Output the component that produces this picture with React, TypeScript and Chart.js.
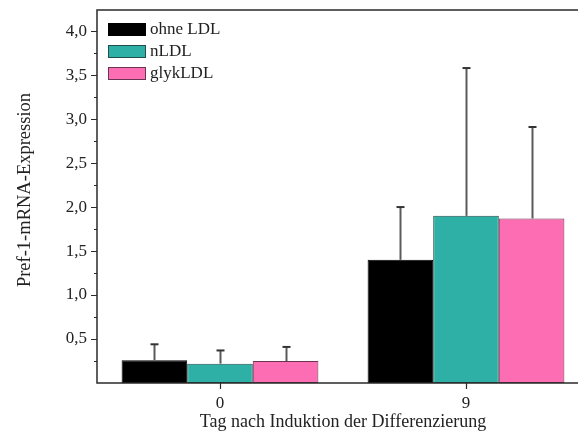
import React, { useEffect, useRef } from "react";
import { Chart, registerables } from "chart.js";

Chart.register(...registerables);

const categories = ["0", "9"];
const seriesNames = ["ohne LDL", "nLDL", "glykLDL"];
const ohneLDL = [0.26, 1.4];
const nLDL = [0.22, 1.9];
const glykLDL = [0.25, 1.87];
// upper error amounts (SD) above each bar
const ohneLDLErr = [0.18, 0.6];
const nLDLErr = [0.15, 1.68];
const glykLDLErr = [0.16, 1.04];
const yMajorTicks = [0.5, 1.0, 1.5, 2.0, 2.5, 3.0, 3.5, 4.0];
const yMinorTicks = [0.25, 0.75, 1.25, 1.75, 2.25, 2.75, 3.25, 3.75];
const xTitle = "Tag nach Induktion der Differenzierung";
const yTitle = "Pref-1-mRNA-Expression";

const FONT = "'Liberation Serif', 'Times New Roman', serif";
const fills = ["#000000", "#2eb0a6", "#fc6db4"];
const edges = ["#000000", "#1f4f4b", "#6a3550"];
const errors = [ohneLDLErr, nLDLErr, glykLDLErr];

const framePlugin = {
  id: "frame",
  afterDraw(chart: any) {
    const { ctx, chartArea } = chart;
    const { left, right, top, bottom } = chartArea;
    const y = chart.scales.y;
    const x = chart.scales.x;
    ctx.save();
    ctx.strokeStyle = "#2a2a2a";
    ctx.lineWidth = 1.5;
    ctx.beginPath();
    ctx.moveTo(left, top);
    ctx.lineTo(right, top);
    ctx.lineTo(right, bottom);
    ctx.lineTo(left, bottom);
    ctx.closePath();
    ctx.stroke();
    ctx.lineWidth = 1.2;
    ctx.beginPath();
    yMajorTicks.forEach((v) => {
      const py = Math.round(y.getPixelForValue(v)) + 0.5;
      ctx.moveTo(left - 6, py);
      ctx.lineTo(left, py);
    });
    yMinorTicks.forEach((v) => {
      const py = Math.round(y.getPixelForValue(v)) + 0.5;
      ctx.moveTo(left - 3, py);
      ctx.lineTo(left, py);
    });
    categories.forEach((_, i) => {
      const px = Math.round(x.getPixelForValue(i)) + 0.5;
      ctx.moveTo(px, bottom);
      ctx.lineTo(px, bottom + 6);
    });
    ctx.stroke();

    // axis titles
    ctx.fillStyle = "#222";
    ctx.textAlign = "center";
    ctx.textBaseline = "alphabetic";
    ctx.font = `18px ${FONT}`;
    ctx.fillText(xTitle, (left + right) / 2, 427);
    ctx.save();
    ctx.translate(30, 190);
    ctx.rotate(-Math.PI / 2);
    ctx.font = `18.5px ${FONT}`;
    ctx.fillText(yTitle, 0, 0);
    ctx.restore();

    // legend
    ctx.font = `17px ${FONT}`;
    ctx.textBaseline = "middle";
    ctx.textAlign = "left";
    seriesNames.forEach((name, i) => {
      const by = 23 + i * 22;
      ctx.fillStyle = fills[i];
      ctx.fillRect(108, by, 38, 13);
      ctx.strokeStyle = edges[i];
      ctx.lineWidth = 1;
      ctx.strokeRect(108.5, by + 0.5, 37, 12);
      ctx.fillStyle = "#222";
      ctx.fillText(name, 150, by + 7);
    });
    ctx.restore();
  },
};

const errorBarPlugin = {
  id: "errorBars",
  afterDatasetsDraw(chart: any) {
    const { ctx } = chart;
    const y = chart.scales.y;
    ctx.save();
    chart.data.datasets.forEach((ds: any, di: number) => {
      const meta = chart.getDatasetMeta(di);
      meta.data.forEach((el: any, i: number) => {
        const top = y.getPixelForValue(ds.data[i] + errors[di][i]);
        const px = Math.round(el.x) + 0.5;
        ctx.strokeStyle = "#5a5a5a";
        ctx.lineWidth = 2;
        ctx.beginPath();
        ctx.moveTo(px, el.y);
        ctx.lineTo(px, top);
        ctx.stroke();
        ctx.strokeStyle = "#333";
        ctx.beginPath();
        ctx.moveTo(px - 4, top);
        ctx.lineTo(px + 4, top);
        ctx.stroke();
      });
    });
    ctx.restore();
  },
};

export default function App() {
  const ref = useRef<HTMLCanvasElement>(null);

  useEffect(() => {
    const canvas = ref.current;
    if (!canvas) return;
    const values = [ohneLDL, nLDL, glykLDL];
    const chart = new Chart(canvas, {
      type: "bar",
      data: {
        labels: categories,
        datasets: seriesNames.map((name, i) => ({
          label: name,
          data: values[i],
          backgroundColor: fills[i],
          borderColor: edges[i],
          borderWidth: 1,
          borderSkipped: false,
          categoryPercentage: 0.8,
          barPercentage: 1.0,
        })),
      },
      options: {
        responsive: false,
        animation: false,
        events: [],
        layout: { padding: { left: 0, top: 10, right: 11, bottom: 0 } },
        plugins: {
          legend: { display: false },
          tooltip: { enabled: false },
        },
        scales: {
          x: {
            type: "category",
            offset: true,
            border: { display: false },
            grid: { display: false, drawTicks: false },
            ticks: {
              padding: 10,
              color: "#222",
              font: { family: FONT, size: 17 },
            },
            afterFit(scale: any) {
              scale.height = 50;
              scale.paddingLeft = 0;
              scale.paddingRight = 0;
            },
          },
          y: {
            type: "linear",
            min: 0,
            max: 4.24,
            border: { display: false },
            grid: { display: false, drawTicks: false },
            ticks: {
              stepSize: 0.5,
              includeBounds: false,
              padding: 10,
              color: "#222",
              font: { family: FONT, size: 17 },
              callback: (v: any) =>
                Number(v) === 0 ? "" : Number(v).toFixed(1).replace(".", ","),
            },
            afterFit(scale: any) {
              scale.width = 97;
              scale.paddingTop = 0;
              scale.paddingBottom = 0;
            },
          },
        },
      },
      plugins: [errorBarPlugin, framePlugin],
    });
    return () => chart.destroy();
  }, []);

  return (
    <div
      style={{
        position: "fixed",
        left: 0,
        top: 0,
        width: 578,
        height: 433,
        overflow: "hidden",
        background: "#fff",
      }}
    >
      <canvas ref={ref} width={600} height={433} style={{ display: "block" }} />
    </div>
  );
}
